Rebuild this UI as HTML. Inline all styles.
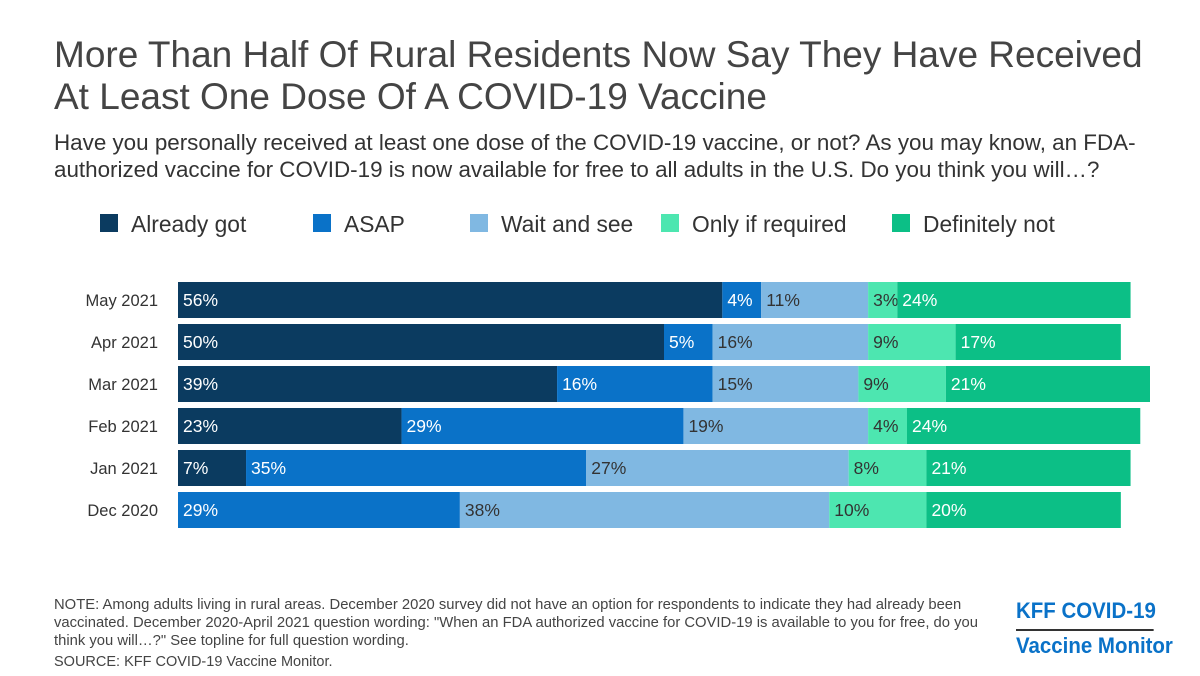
<!DOCTYPE html>
<html><head><meta charset="utf-8"><style>
body{margin:0;width:1200px;height:676px;background:#fff;font-family:"Liberation Sans",sans-serif;position:relative;overflow:hidden;color:#333}
.t{position:absolute;margin:0;white-space:nowrap}
</style></head><body>
<div class="t" style="left:54px;top:34px;font-size:37px;line-height:42px;color:#444">More Than Half Of Rural Residents Now Say They Have Received<br>At Least One Dose Of A COVID-19 Vaccine</div>
<div class="t" style="left:54px;top:129px;font-size:22.4px;line-height:27px;color:#333">Have you personally received at least one dose of the COVID-19 vaccine, or not? As you may know, an FDA-<br>authorized vaccine for COVID-19 is now available for free to all adults in the U.S. Do you think you will…?</div>
<svg id="chart" width="1200" height="676" style="position:absolute;left:0;top:0"></svg>
<div class="t" style="left:54px;top:596px;font-size:14.8px;line-height:18px;color:#444">NOTE: Among adults living in rural areas. December 2020 survey did not have an option for respondents to indicate they had already been<br>vaccinated. December 2020-April 2021 question wording: "When an FDA authorized vaccine for COVID-19 is available to you for free, do you<br>think you will…?" See topline for full question wording.</div>
<div class="t" style="left:54px;top:654px;font-size:14.5px;color:#444">SOURCE: KFF COVID-19 Vaccine Monitor.</div>
<div class="t" style="left:1016px;top:596px;font-size:22px;font-weight:bold;color:#0a72c8;line-height:30px;transform:scaleX(0.93);transform-origin:0 0">
<div style="border-bottom:2px solid #333;width:148px;padding-bottom:3px">KFF COVID-19</div>
<div>Vaccine Monitor</div></div>
<script>
const categories=["May 2021","Apr 2021","Mar 2021","Feb 2021","Jan 2021","Dec 2020"];
const seriesNames=["Already got","ASAP","Wait and see","Only if required","Definitely not"];
const alreadyGot=[56,50,39,23,7,0];
const asap=[4,5,16,29,35,29];
const waitSee=[11,16,15,19,27,38];
const onlyIfRequired=[3,9,9,4,8,10];
const definitelyNot=[24,17,21,24,21,20];
const series=[alreadyGot,asap,waitSee,onlyIfRequired,definitelyNot];
const colors=["#0b3b60","#0a72c8","#80b8e2","#4de6b0","#0cbf86"];
const textColors=["#fff","#fff","#333","#333","#fff"];
const svg=document.getElementById('chart');
const NS="http://www.w3.org/2000/svg";
const x0=178,pxPer=9.72,y0=282,step=42,bh=36;
const xs=v=>x0+v*pxPer;
const ys=i=>y0+i*step;
function mk(t,a){const e=document.createElementNS(NS,t);for(const k in a)e.setAttribute(k,a[k]);svg.appendChild(e);return e;}
const legX=[100,313,470,661,892];
seriesNames.forEach((n,s)=>{
  const r=mk('rect',{x:legX[s],y:214,width:18,height:18,fill:colors[s]});
  
  
  const t=mk('text',{x:legX[s]+31,y:232,'font-size':22.8,fill:'#333'});
  t.textContent=n;
  
  
});
categories.forEach((c,i)=>{
  const lab=mk('text',{x:158,y:ys(i)+bh/2+6,'text-anchor':'end','font-size':16.5,fill:'#333'});
  lab.textContent=c;
  
  
  let cum=0;
  series.forEach((arr,s)=>{
    const v=arr[i];
    if(v>0){
      const r=mk('rect',{x:xs(cum),y:ys(i),width:v*pxPer,height:bh,fill:colors[s]});
      
      
      const t=mk('text',{x:xs(cum)+5,y:ys(i)+bh/2+6,'font-size':17.5,fill:textColors[s]});
      t.textContent=v+'%';
      
      
    }
    cum+=v;
  });
});
</script>
</body></html>
